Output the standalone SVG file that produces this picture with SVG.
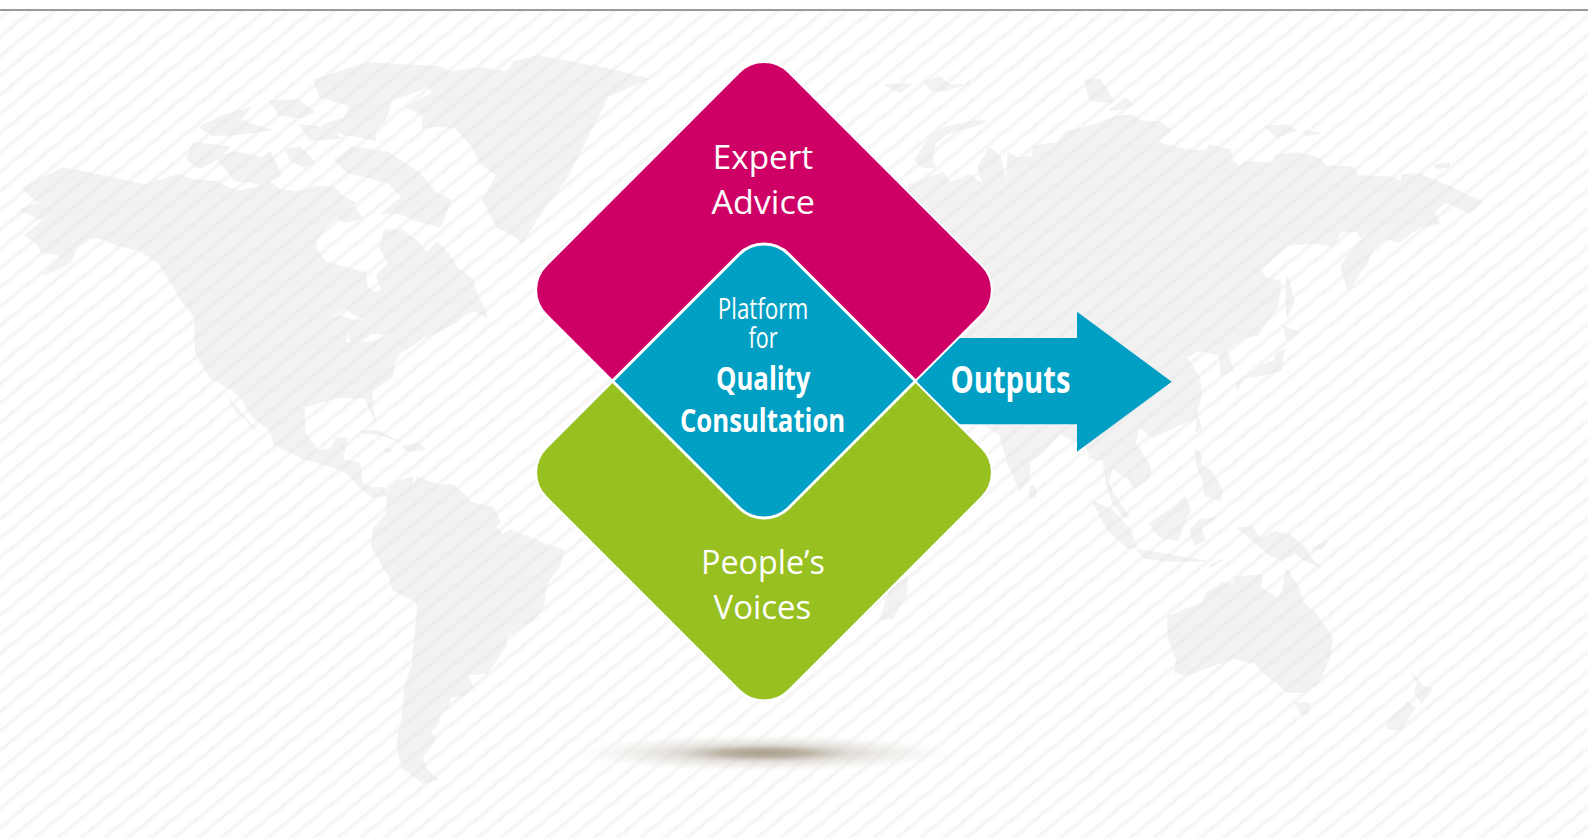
<svg xmlns="http://www.w3.org/2000/svg" width="1588" height="838" viewBox="0 0 1588 838">
<style>
.lbl{font-family:"Open Sans","Noto Sans","Liberation Sans",sans-serif;fill:#fff;font-size:33.5px}
.plat{font-size:30px}
.b{font-weight:700;font-size:33px}
.land{fill:#e6e6e6;stroke:#e6e6e6;stroke-width:1.5;stroke-linejoin:round;fill-rule:evenodd}
.edge{stroke:#fff;stroke-width:2}
</style>
<defs>
<pattern id="stripes" width="40" height="14.86" patternUnits="userSpaceOnUse" patternTransform="translate(0,34.53) rotate(-39.6)">
<rect width="40" height="3.8" fill="#f6f6f6"/>
</pattern>
<radialGradient id="shadow">
<stop offset="0" stop-color="#a99e8e"/>
<stop offset=".22" stop-color="#b5ab9c" stop-opacity=".9"/>
<stop offset=".45" stop-color="#d3cec5" stop-opacity=".65"/>
<stop offset=".75" stop-color="#e8e5e0" stop-opacity=".4"/>
<stop offset="1" stop-color="#f5f5f5" stop-opacity="0"/>
</radialGradient>
</defs>
<rect width="1588" height="838" fill="#fff"/>
<rect y="11" width="1588" height="827" fill="url(#stripes)"/>
<rect y="9" width="1588" height="2" fill="#9a9a9a"/>
<g id="world-map" class="land" opacity=".5">
<path d="M23 188L63 168 88 173 132 182 145 185 179 175 193 180 216 182 237 192 257 187 270 182 280 190 298 192 316 187 333 187 343 197 355 203 338 215 325 228 316 240 316 250 325 262 365 273 367 287 375 293 382 290 377 275 389 263 380 248 385 230 402 230 419 243 426 253 438 242 450 257 456 267 473 280 475 290 483 307 487 317 473 310 467 313 456 322 436 333 423 337 416 343 399 353 394 363 392 377 372 390 372 407 375 420 365 398 338 397 304 407 305 433 317 450 330 450 337 438 347 438 342 460 360 463 362 483 373 488 383 488 387 495 373 497 360 487 352 477 342 470 327 465 303 458 275 445 270 430 253 417 243 400 233 390 210 377 196 353 195 317 179 297 172 283 159 263 139 250 118 245 101 238 91 238 76 248 71 262 44 275 63 255 41 252 39 245 25 235 44 220 20 210 41 203 32 197Z M345 343L348 330 352 343Z M328 317L345 308 355 315 372 322 352 320 340 316Z M358 343L372 333 392 335 372 342Z"/>
<path d="M230 400L255 430 247 420 237 412Z"/>
<path d="M193 143L230 147 215 160 200 168 187 160Z M216 157L235 152 262 158 270 152 281 175 262 184 235 180Z M335 160L352 147 389 153 419 173 436 193 451 200 440 227 416 220 399 213 382 213 402 197 389 183 368 177 348 173Z M200 127L225 115 250 108 240 120 270 130 230 135 213 135Z M270 101L298 100 314 112 300 118 280 115Z M314 80L368 63 440 67 450 72 419 90 392 100 385 120 375 130 375 140 338 133 322 125 345 118 350 105 320 97Z M287 150L300 147 314 162 305 167 290 160Z M300 125L330 128 340 138 310 140Z M336 205L355 208 362 218 345 222 332 214Z"/>
<path d="M450 72L480 68 507 72 514 62 537 56 608 69 648 79 608 96 598 116 567 177 537 218 522 243 517 237 497 227 483 200 497 175 480 163 473 147 456 128 439 126 423 128 423 115 406 107 433 93 426 83Z"/>
<path d="M387 492L397 482 412 477 412 488 418 478 437 485 453 485 473 503 493 508 500 522 495 527 503 535 510 530 527 537 547 545 563 550 560 565 547 583 543 607 533 620 507 635 505 647 487 673 467 675 473 687 465 695 450 697 448 707 440 713 438 725 430 730 435 740 422 757 427 770 438 779 423 783 402 767 397 745 403 713 405 687 412 667 418 607 415 600 393 590 390 577 372 547 373 530 387 513Z"/>
<path d="M360 432L377 431 400 442 383 435Z M403 447L417 443 425 449 408 451Z M385 449L392 450 386 452Z"/>
<path d="M915 160L930 137 947 127 980 120 985 122 970 127 950 132 935 143 932 160 935 167 923 167Z"/>
<path d="M800 300L910 185 943 173 950 183 970 175 983 185 978 167 990 148 1000 157 1007 187 1008 153 1017 158 1032 157 1034 146 1057 143 1066 132 1095 125 1115 117 1132 115 1140 121 1159 122 1171 130 1159 140 1144 149 1159 143 1186 150 1206 151 1210 145 1230 150 1232 160 1240 167 1245 162 1274 164 1277 155 1297 153 1318 158 1326 166 1352 167 1358 176 1389 177 1402 182 1402 175 1419 174 1450 187 1482 202 1470 213 1445 202 1434 212 1439 223 1419 227 1399 242 1385 238 1372 250 1367 263 1348 290 1341 267 1358 243 1375 230 1360 237 1358 231 1341 232 1333 246 1313 243 1287 245 1260 270 1265 277 1281 282 1277 307 1257 335 1243 337 1226 350 1233 370 1221 375 1220 355 1199 350 1186 357 1199 377 1201 393 1196 417 1172 428 1152 437 1139 427 1135 443 1150 467 1150 477 1135 488 1127 477 1112 468 1108 483 1117 500 1128 515 1125 518 1113 503 1107 485 1103 460 1090 458 1088 448 1060 433 1042 453 1030 462 1028 480 1020 490 1008 463 1000 435 985 425 900 400Z"/>
<path d="M880 620L890 590 907 577 906 595 893 618Z"/>
<ellipse cx="1033" cy="492" rx="3" ry="6"/>
<path d="M1277 353L1284 350 1281 370 1264 375 1243 378 1237 390 1237 383 1260 367 1275 360Z M1284 327L1299 332 1287 340Z M1287 277L1294 302 1287 317 1286 293Z M1198 418L1201 428 1196 431Z"/>
<path d="M1085 80L1100 80 1110 95 1112 103 1090 100Z M1110 110L1125 98 1133 105 1115 110Z M1265 127L1285 125 1296 130 1278 137Z M1304 131L1320 133 1306 135Z M1436 165L1449 163 1449 167 1436 168Z M885 85L912 84 900 92Z M925 82L940 77 950 85 965 85 970 80 968 84 945 90 932 91Z"/>
<path d="M1195 450L1202 455 1200 465 1210 470 1222 490 1220 500 1205 495 1203 480 1197 465Z M1093 502L1112 510 1130 530 1136 547 1128 548 1108 530Z M1137 550L1170 555 1205 561 1170 561 1145 558Z M1210 565L1222 560 1210 567Z M1150 523L1170 510 1185 497 1190 510 1185 520 1178 540 1165 538 1158 535Z M1190 530L1200 520 1215 518 1200 527 1205 540 1195 545Z M1238 528L1252 527 1260 540 1275 532 1290 535 1305 548 1312 560 1320 567 1305 560 1295 553 1282 560 1270 555 1255 542Z M1312 549L1327 541 1322 549Z"/>
<path d="M1168 617L1193 607 1203 602 1207 593 1223 583 1233 585 1237 577 1262 575 1260 588 1278 598 1283 590 1287 570 1298 587 1303 603 1315 613 1322 623 1332 637 1330 657 1318 683 1303 692 1287 692 1277 683 1263 672 1255 663 1233 658 1213 665 1187 675 1175 672 1177 660 1168 637Z M1296 703L1310 703 1308 713 1302 715Z M1412 673L1423 687 1432 688 1422 703 1415 693 1418 683Z M1407 703L1415 708 1400 730 1387 728 1388 722Z"/>
</g>
<g id="connectors">
<path id="outputs-arrow" d="M915 381L957 338H1077V311.7L1171.7 381.7 1077 451.7V424.3H957Z" fill="#009fc3"/>
</g>
<g id="shadow-node"><ellipse cx="764" cy="753" rx="195" ry="19" fill="url(#shadow)"/></g>
<g id="peoples-voices">
<path class="edge" fill="#98c021" d="M739.25 254.85A35 35 0 0 1 788.75 254.85L981.65 447.75A35 35 0 0 1 981.65 497.25L788.75 690.15A35 35 0 0 1 739.25 690.15L546.35 497.25A35 35 0 0 1 546.35 447.75Z"/>
<text class="lbl" x="763" y="574" text-anchor="middle" textLength="124" lengthAdjust="spacingAndGlyphs">People’s</text>
<text class="lbl" x="762.4" y="619" text-anchor="middle" textLength="97.6" lengthAdjust="spacingAndGlyphs">Voices</text>
</g>
<g id="expert-advice">
<path class="edge" fill="#ce0066" d="M739.25 72.35A35 35 0 0 1 788.75 72.35L981.65 265.25A35 35 0 0 1 981.65 314.75L788.75 507.65A35 35 0 0 1 739.25 507.65L546.35 314.75A35 35 0 0 1 546.35 265.25Z"/>
<text class="lbl" x="763" y="169" text-anchor="middle" textLength="100.5" lengthAdjust="spacingAndGlyphs">Expert</text>
<text class="lbl" x="763.2" y="214" text-anchor="middle" textLength="103.5" lengthAdjust="spacingAndGlyphs">Advice</text>
</g>
<g id="platform">
<path fill="#009fc3" stroke="#fff" stroke-width="3" d="M739.25 254.25A35 35 0 0 1 788.75 254.25L915.5 381 788.75 507.75A35 35 0 0 1 739.25 507.75L612.5 381Z"/>
<text class="lbl plat" x="763" y="319" text-anchor="middle" textLength="90.5" lengthAdjust="spacingAndGlyphs">Platform</text>
<text class="lbl plat" x="763" y="347.5" text-anchor="middle" textLength="29" lengthAdjust="spacingAndGlyphs">for</text>
<text class="lbl b" x="763.2" y="390" text-anchor="middle" textLength="94.4" lengthAdjust="spacingAndGlyphs">Quality</text>
<text class="lbl b" x="762.6" y="431.7" text-anchor="middle" textLength="165.3" lengthAdjust="spacingAndGlyphs">Consultation</text>
</g>
<g id="outputs-label">
<text class="lbl b" x="1010.5" y="393.3" text-anchor="middle" textLength="120" lengthAdjust="spacingAndGlyphs" style="font-size:38px">Outputs</text>
</g>
</svg>
